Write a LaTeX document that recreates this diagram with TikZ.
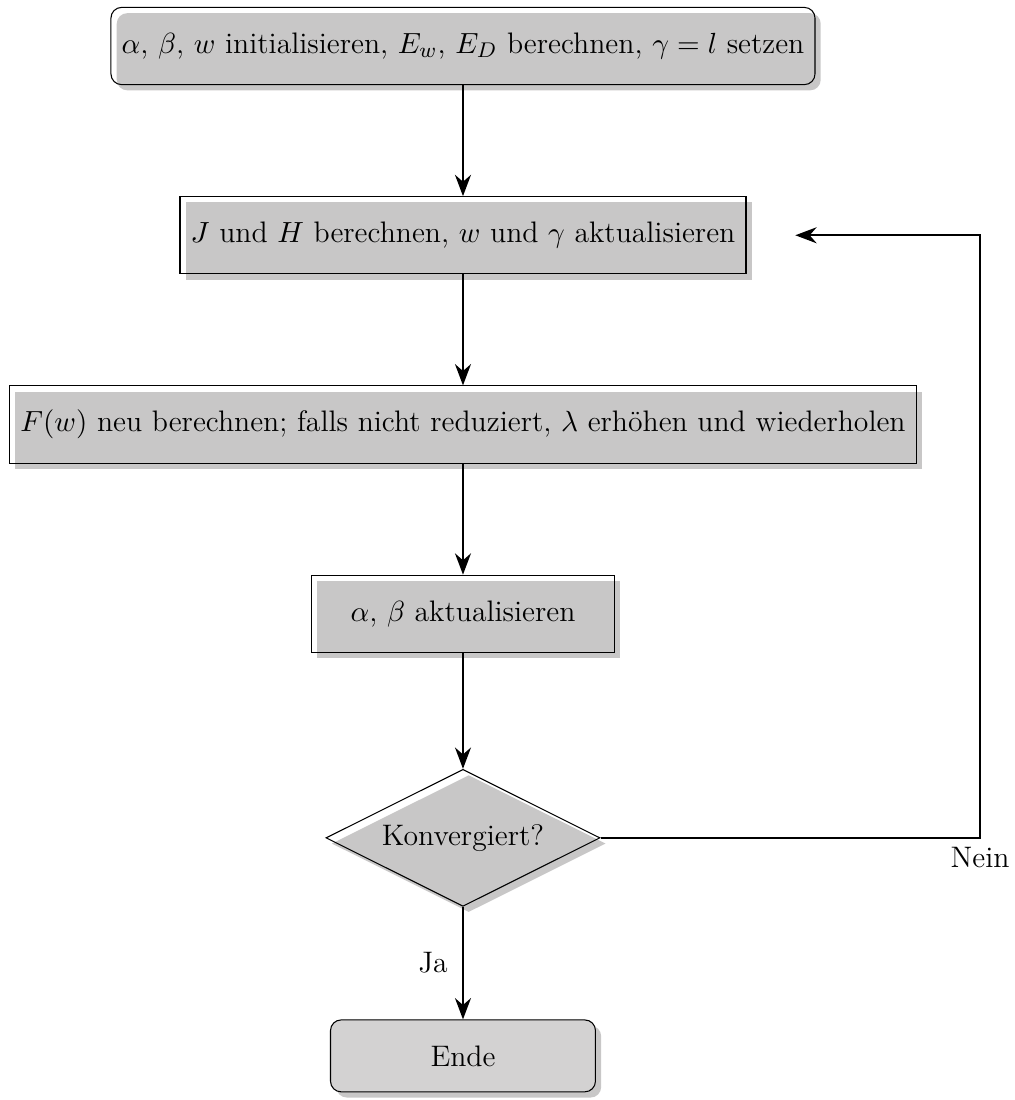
\documentclass[tikz,border=0pt]{standalone}
\usepackage{amssymb}
\usepackage{amsmath}
\usetikzlibrary{shapes.geometric,shadows,arrows.meta}
\definecolor{black}{cmyk}{0,0,0.0,1.0}
\definecolor{grey}{cmyk}{0,0,0,0.2}

\begin{document}
\begin{tikzpicture}[font=\fontsize{11.15}{13}\selectfont]
    \tikzset{%
      startbox/.style={rectangle, rounded corners, draw, drop shadow,
        minimum height=1.02cm, inner sep=4pt},
      procbox/.style={rectangle, draw, drop shadow, minimum
        height=1.02cm, inner sep=4pt},
      decide/.style={diamond, draw, drop shadow, aspect=2, minimum
        width=3.62cm, minimum height=1.81cm, inner sep=1pt},
      endbox/.style={rectangle, rounded corners, draw, fill=grey,
        drop shadow, minimum width=3.5cm, minimum height=0.95cm},
      arr/.style={-{Stealth[length=8pt,width=6pt]}, thick},
    }
    \useasboundingbox (-6.116,0.608) rectangle (7.279,-13.923);
    \node[startbox] (init) at (0,0)
      {$\alpha$, $\beta$, $w$ initialisieren, $E_w$, $E_D$ berechnen, $\gamma = l$ setzen};
    \node[procbox] (jh) at (0,-2.5)
      {$J$ und $H$ berechnen, $w$ und $\gamma$ aktualisieren};
    \node[procbox] (fw) at (0,-5)
      {$F(w)$ neu berechnen; falls nicht reduziert, $\lambda$ erh\"ohen und wiederholen};
    \node[procbox, minimum width=4cm] (ab) at (0,-7.5)
      {$\alpha$, $\beta$ aktualisieren};
    \node[decide] (conv) at (0,-10.46) {Konvergiert?};
    \node[endbox] (ende) at (0,-13.34) {Ende};

    \draw [arr] (init) -- (jh);
    \draw [arr] (jh) -- (fw);
    \draw [arr] (fw) -- (ab);
    \draw [arr] (ab) -- (conv);
    \draw [arr] (conv) -- node[left, xshift=-2pt] (ja) {Ja} (ende);

    % back to the update step
    \coordinate (turn) at (6.83,-10.46);
    \coordinate (back) at (4.39,-2.5);
    \draw [arr] (conv.east) -- (turn) |- (back);
    \node[below] (nein) at (turn) {Nein};
  \end{tikzpicture}
\end{document}
